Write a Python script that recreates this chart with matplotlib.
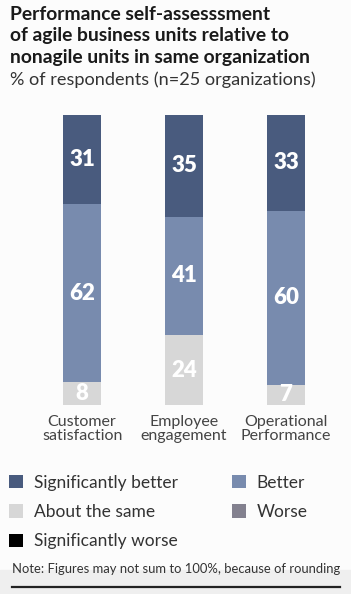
import matplotlib.pyplot as plt
import numpy as np
from matplotlib.patches import Patch, Rectangle
from matplotlib.lines import Line2D

plt.rcParams['font.family'] = ['Lato', 'DejaVu Sans']

# data
categories = ['Customer\nsatisfaction', 'Employee\nengagement', 'Operational\nPerformance']
sig_better = [31, 35, 33]
better = [62, 41, 60]
same = [8, 24, 7]
worse = [0, 0, 0]
sig_worse = [0, 0, 0]

series = [sig_worse, worse, same, better, sig_better]
names = ['Significantly worse', 'Worse', 'About the same', 'Better', 'Significantly better']
colors = ['#000000', '#83818f', '#d7d7d7', '#788bae', '#495b7e']

W, H = 351, 594
fig = plt.figure(figsize=(W / 100, H / 100), dpi=100)
fig.patch.set_facecolor('#fcfcfc')

def fx(x):
    return x / W

def fy(y):
    return 1 - y / H

ax = fig.add_axes([fx(21), fy(405), fx(326), fy(115) - fy(405)])
ax.set_facecolor('none')

vals = np.array(series, dtype=float)
totals = vals.sum(axis=0)
scaled = vals / totals * 100
index = np.arange(len(categories))
bottom = np.zeros(len(categories))
for i, (row, col) in enumerate(zip(scaled, colors)):
    ax.bar(index, row, 0.37, bottom=bottom, color=col, linewidth=0)
    for j in range(len(categories)):
        if vals[i][j] > 0:
            ax.text(index[j], bottom[j] + row[j] / 2, str(int(vals[i][j])),
                    ha='center', va='center', color='white', fontsize=16, fontweight='heavy')
    bottom += row

ax.set_xlim(-0.6, 2.6)
ax.set_ylim(0, 100)
ax.axis('off')

for j, c in enumerate(categories):
    ax.text(index[j], -3.6, c, ha='center', va='top', fontsize=11.5, color='#444444',
            linespacing=1.0)

# titles
title = ['Performance self-assesssment', 'of agile business units relative to',
         'nonagile units in same organization']
for k, t in enumerate(title):
    fig.text(fx(10), fy(20 + k * 21.5), t, fontsize=13.9, fontweight='bold', color='#1a1a1a', va='baseline')
fig.text(fx(10), fy(85), '% of respondents (n=25 organizations)', fontsize=13.1, color='#333333', va='baseline')

# legend
order = [4, 2, 0, 3, 1]
handles = [Patch(facecolor=colors[i], edgecolor='none') for i in order]
fig.legend(handles, [names[i] for i in order], ncol=2, loc='upper left',
           bbox_to_anchor=(fx(-7), fy(459)), frameon=False, fontsize=12.5,
           handlelength=0.8, handleheight=0.8, handletextpad=0.65,
           labelspacing=0.77, columnspacing=3.1, labelcolor='#333333')

# footer
fig.patches.append(Rectangle((0, 0), 1, fy(570), transform=fig.transFigure, color='#efefef', zorder=0))
fig.text(fx(12), fy(573), 'Note: Figures may not sum to 100%, because of rounding',
         fontsize=9.4, color='#333333', va='baseline')
fig.lines.append(Line2D([fx(12), fx(340)], [fy(587), fy(587)], transform=fig.transFigure,
                        color='#222222', linewidth=1.6))

fig.savefig('out.png', dpi=100, facecolor=fig.get_facecolor())
